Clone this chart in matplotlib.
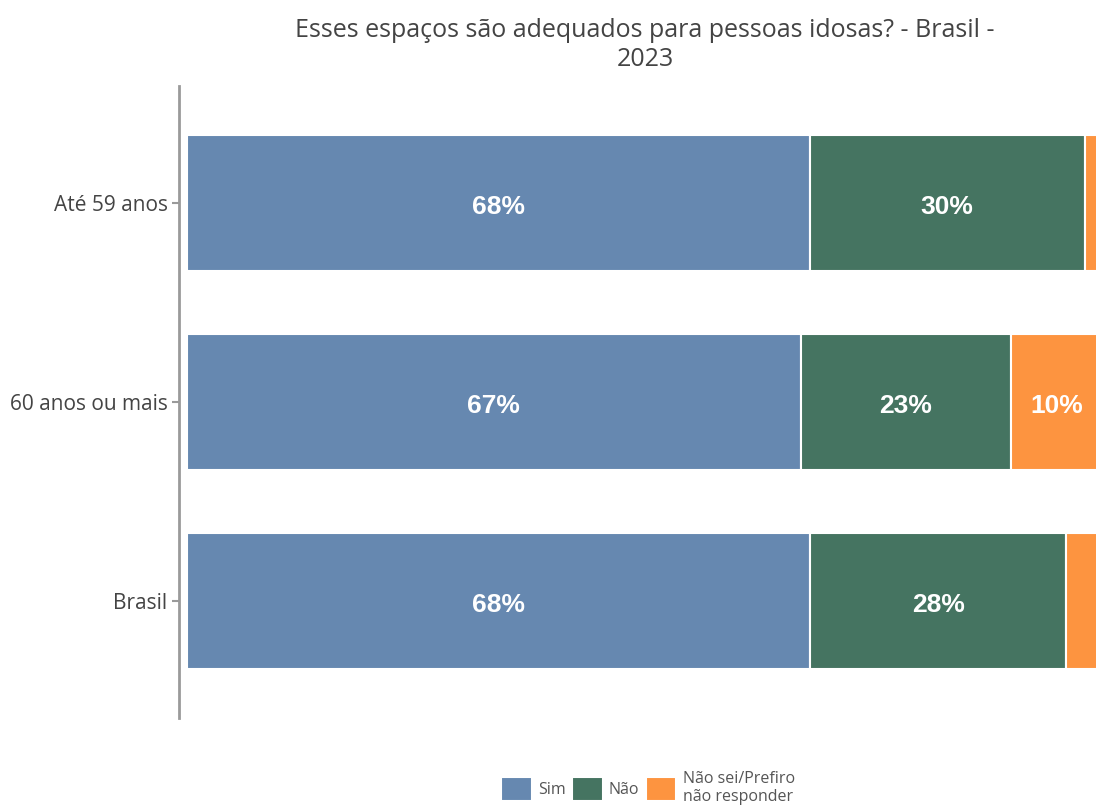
import matplotlib.pyplot as plt
import numpy as np

plt.rcParams['font.family'] = ['Open Sans', 'DejaVu Sans']

faixas = ['Até 59 anos', '60 anos ou mais', 'Brasil']
sim = [68, 67, 68]
nao = [30, 23, 28]
nao_sei = [2, 10, 4]
respostas = ['Sim', 'Não', 'Não sei/Prefiro\nnão responder']
cores = ['#6688b0', '#457461', '#fd9440']

W, H = 1096, 807
fig = plt.figure(figsize=(W / 100, H / 100), dpi=100)
# the x range runs a little past the right edge of the figure
ax = fig.add_axes([187 / W, 1 - 718 / H, 916 / W, (718 - 86) / H])

y = np.arange(len(faixas))
esquerda = np.zeros(len(faixas))
for serie, nome, cor in zip([sim, nao, nao_sei], respostas, cores):
    vals = np.array(serie, dtype=float)
    barras = ax.barh(y, vals, left=esquerda, height=0.685, color=cor,
                     edgecolor='white', linewidth=1.5, label=nome)
    for b, v in zip(barras, vals):
        if v >= 5:
            ax.text(b.get_x() + b.get_width() / 2, b.get_y() + b.get_height() / 2 + 0.02,
                    f'{v:.0f}%', ha='center', va='center', color='white',
                    fontsize=19, fontweight='bold', family='Liberation Sans')
    esquerda += vals

for s in ['top', 'right', 'bottom']:
    ax.spines[s].set_visible(False)
ax.spines['left'].set_position(('outward', 6))
ax.spines['left'].set_color('#9a9a9a')
ax.spines['left'].set_linewidth(2)

ax.set_xlim(0, 100)
ax.set_ylim(2.59, -0.59)
ax.set_xticks([])
ax.set_yticks(y)
ax.set_yticklabels(faixas)
ax.tick_params(axis='y', length=5, width=1.5, color='#9a9a9a', pad=3,
               labelcolor='#444444', labelsize=15)

fig.text(645 / W, 1 - 45 / H,
         'Esses espaços são adequados para pessoas idosas? - Brasil -\n2023',
         ha='center', va='center', fontsize=18, color='#444444', linespacing=1.25)

fig.legend(loc='center', bbox_to_anchor=(648 / W, 1 - 788 / H), ncol=3,
           frameon=False, fontsize=11.5, handlelength=1.9, handleheight=1.9,
           handletextpad=0.4, columnspacing=0.4, labelcolor='#555555',
           labelspacing=0.2)

fig.savefig('out.png', dpi=100)
